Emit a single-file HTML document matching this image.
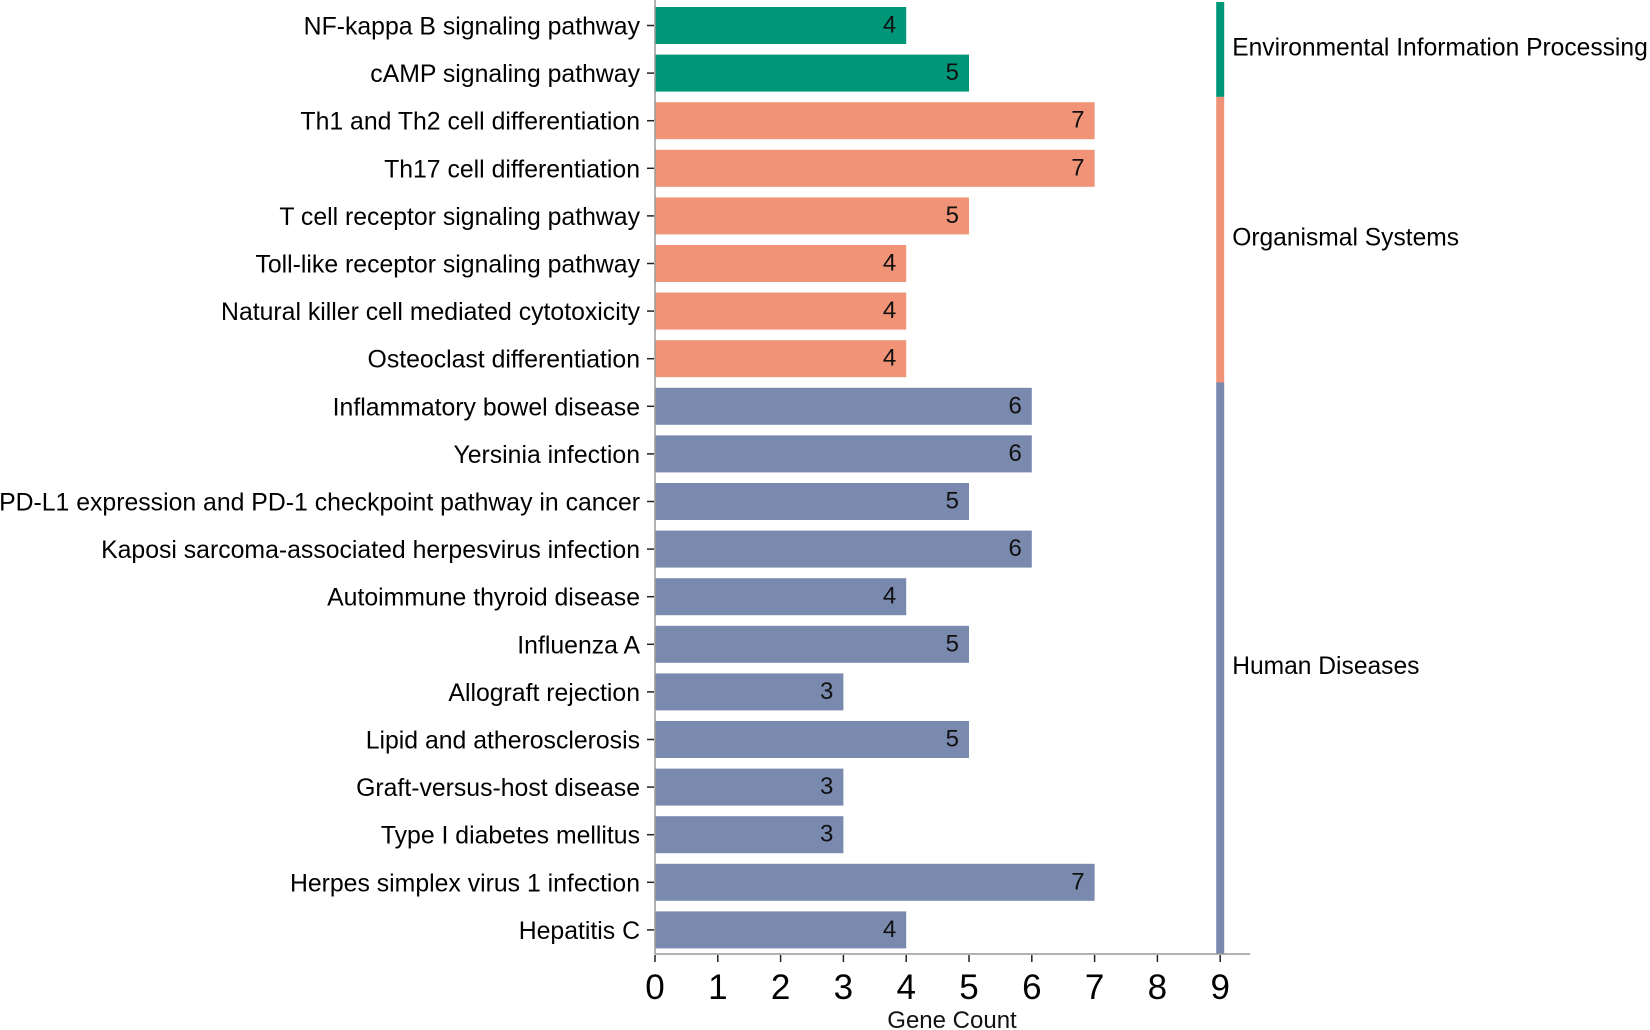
<!DOCTYPE html>
<html><head><meta charset="utf-8"><style>
html,body{margin:0;padding:0;background:#fff;}
svg{display:block;font-family:"Liberation Sans",Arial,sans-serif;}
</style></head><body>
<svg id="chart" width="1650" height="1030" viewBox="0 0 1650 1030"></svg>
<script>
const categories = ["NF-kappa B signaling pathway","cAMP signaling pathway","Th1 and Th2 cell differentiation","Th17 cell differentiation","T cell receptor signaling pathway","Toll-like receptor signaling pathway","Natural killer cell mediated cytotoxicity","Osteoclast differentiation","Inflammatory bowel disease","Yersinia infection","PD-L1 expression and PD-1 checkpoint pathway in cancer","Kaposi sarcoma-associated herpesvirus infection","Autoimmune thyroid disease","Influenza A","Allograft rejection","Lipid and atherosclerosis","Graft-versus-host disease","Type I diabetes mellitus","Herpes simplex virus 1 infection","Hepatitis C"];
const counts = [4,5,7,7,5,4,4,4,6,6,5,6,4,5,3,5,3,3,7,4];
const groups = ["env","env","org","org","org","org","org","org","hum","hum","hum","hum","hum","hum","hum","hum","hum","hum","hum","hum"];
const groupNames = ["env","org","hum"];
const groupLabels = ["Environmental Information Processing","Organismal Systems","Human Diseases"];
const xTicks = [0,1,2,3,4,5,6,7,8,9];

const colors = {env:"#009779",org:"#f09377",hum:"#7a89ae"};
const svg = document.getElementById('chart');
const NS = "http://www.w3.org/2000/svg";
const x0 = 655, unit = 62.8, top0 = 25.5, pitch = 47.6, barH = 37, axisY = 954;
const xs = v => x0 + v*unit;
const yc = i => top0 + i*pitch;
function mk(tag, attrs){const e=document.createElementNS(NS,tag);for(const k in attrs)e.setAttribute(k,attrs[k]);svg.appendChild(e);return e;}

categories.forEach((c,i)=>{
  const r = mk('rect',{x:xs(0),y:yc(i)-barH/2,width:xs(counts[i])-xs(0),height:barH,fill:colors[groups[i]]});
  
  
  const t = mk('text',{x:xs(counts[i])-10,y:yc(i)+7,'font-size':24,'text-anchor':'end',fill:'#111'});
  t.textContent = counts[i];
  
  
  const l = mk('text',{x:x0-15,y:yc(i)+9,'font-size':24.8,'text-anchor':'end',fill:'#000'});
  l.textContent = c;
  
  
  const tk = mk('line',{x1:x0-8,x2:x0-1,y1:yc(i),y2:yc(i),stroke:'#222','stroke-width':1.5});
  
  
});

groupNames.forEach((g,gi)=>{
  const idx = groups.map((v,i)=>v===g?i:-1).filter(i=>i>=0);
  const a = Math.min(...idx), b = Math.max(...idx);
  const yA = a===0 ? 2 : yc(a)-pitch/2, yB = Math.min(yc(b)+pitch/2, axisY);
  const r = mk('rect',{x:xs(9)-4,y:yA,width:8,height:yB-yA,fill:colors[g]});
  
  
  const t = mk('text',{x:xs(9)+12,y:(yA+yB)/2+6,'font-size':24.6,fill:'#000'});
  t.textContent = groupLabels[gi];
  
  
});

const ax = mk('line',{x1:x0,x2:x0,y1:0,y2:axisY,stroke:'#999','stroke-width':1.5});


const bx = mk('line',{x1:x0,x2:xs(9)+30,y1:axisY,y2:axisY,stroke:'#999','stroke-width':1.5});


xTicks.forEach(v=>{
  const tk = mk('line',{x1:xs(v),x2:xs(v),y1:axisY+1,y2:axisY+8,stroke:'#222','stroke-width':1.5});
  
  
  const t = mk('text',{x:xs(v),y:axisY+45,'font-size':35,'text-anchor':'middle',fill:'#000'});
  t.textContent = v;
  
  
});
const xt = mk('text',{x:952,y:1028,'font-size':24,'text-anchor':'middle',fill:'#111'});
xt.textContent = "Gene Count";


</script>
</body></html>
